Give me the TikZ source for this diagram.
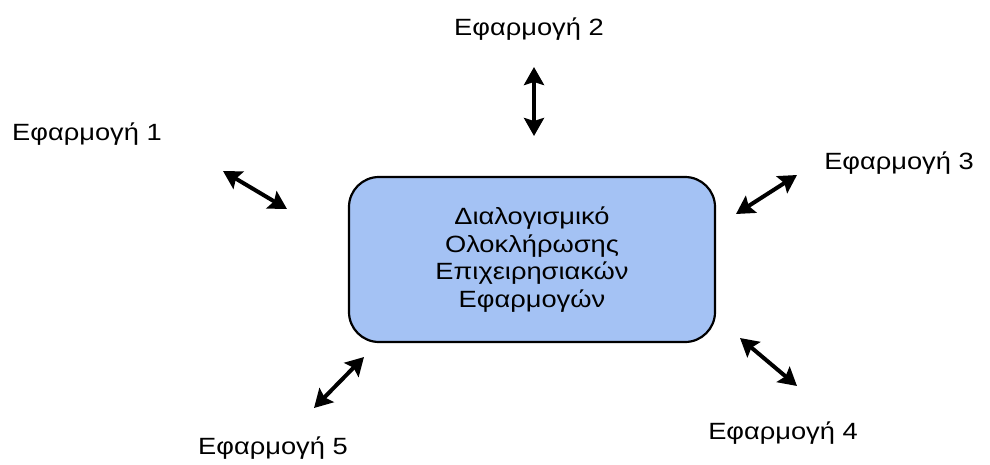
\documentclass[tikz,border=0pt]{standalone}
\usepackage{fontspec}
\setmainfont{Liberation Sans}[FakeStretch=1.16]
\usetikzlibrary{arrows.meta}
\definecolor{boxblue}{HTML}{A4C2F4}
\begin{document}
\begin{tikzpicture}[x=1pt,y=-1pt,
  applabel/.style={font=\fontsize{23.5}{28}\selectfont, inner sep=0pt},
  link/.style={line width=4pt,
    {Stealth[length=18pt,width=20pt,inset=3pt]}-{Stealth[length=18pt,width=20pt,inset=3pt]}},
  core/.style={draw=black, line width=2.2pt, fill=boxblue, rounded corners=30pt,
    minimum width=366pt, minimum height=165pt, align=center,
    font=\fontsize{23.5}{27.7}\selectfont}]
  \useasboundingbox (0,0) rectangle (990,464);
  % central software box
  \node[core] (core) at (532,259.5) {Διαλογισμικό\\Ολοκλήρωσης\\Επιχειρησιακών\\Εφαρμογών};
  % application labels
  \node[applabel] (app1) at (87,134) {Εφαρμογή 1};
  \node[applabel] (app2) at (529,29) {Εφαρμογή 2};
  \node[applabel] (app3) at (899,163) {Εφαρμογή 3};
  \node[applabel] (app4) at (783,433) {Εφαρμογή 4};
  \node[applabel] (app5) at (273,448) {Εφαρμογή 5};
  % arrow end points
  \coordinate (a1s) at (223,171); \coordinate (a1e) at (287,209);
  \coordinate (a2s) at (534,67);  \coordinate (a2e) at (534,136);
  \coordinate (a3s) at (797,175); \coordinate (a3e) at (736,214);
  \coordinate (a4s) at (740,338); \coordinate (a4e) at (797,386);
  \coordinate (a5s) at (364,357); \coordinate (a5e) at (314,408);
  \draw[link] (a1s) -- (a1e);
  \draw[link] (a2s) -- (a2e);
  \draw[link] (a3s) -- (a3e);
  \draw[link] (a4s) -- (a4e);
  \draw[link] (a5s) -- (a5e);
\end{tikzpicture}
\end{document}
